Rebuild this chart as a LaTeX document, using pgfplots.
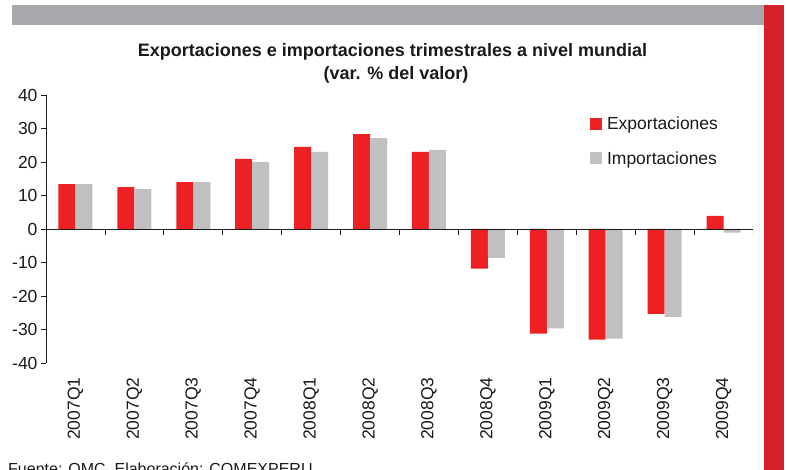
\documentclass[border=0pt]{standalone}
\usepackage{fontspec}
\setmainfont{Liberation Sans}
\usepackage{pgfplots}
\pgfplotsset{compat=1.18}
\definecolor{barred}{HTML}{ED2024}
\definecolor{bargray}{HTML}{C0C0C0}
\definecolor{topgray}{HTML}{A7A8AB}
\definecolor{sidered}{HTML}{D71F2A}
\definecolor{txt}{HTML}{1A1A1A}
\begin{document}
\begin{tikzpicture}[x=1pt,y=1pt]
\useasboundingbox (0,0) rectangle (787,470);
\fill[topgray] (12,465) rectangle (764,445);
\fill[sidered] (764,465) rectangle (784,0);
\node[anchor=base, text=txt, font=\fontsize{18}{18}\selectfont\bfseries] at (392.5,413) {Exportaciones e importaciones trimestrales a nivel mundial};
\node[anchor=base, text=txt, font=\fontsize{18}{18}\selectfont\bfseries] at (396,390) {(var. \% del valor)};
\node[anchor=base west, text=txt, font=\fontsize{16}{16}\selectfont, inner sep=0pt] at (8,-4.5) {Fuente: OMC. Elaboración: COMEXPERU};
\begin{axis}[
  at={(46pt,107pt)}, anchor=south west,
  scale only axis, width=707pt, height=268pt,
  ymin=-40, ymax=40, ytick={-40,-30,...,40},
  xmin=-0.5, xmax=11.5, xtick={0,...,11},
  xticklabels={2007Q1,2007Q2,2007Q3,2007Q4,2008Q1,2008Q2,2008Q3,2008Q4,2009Q1,2009Q2,2009Q3,2009Q4},
  ybar=0pt, bar width=17pt,
  axis y line*=left, axis x line*=bottom,
  x axis line style={draw=none},
  y axis line style={draw=txt, line width=0.8pt},
  xtick style={draw=none},
  ytick style={draw=txt, line width=0.8pt},
  tick align=outside, major tick length=5pt,
  /pgf/number format/assume math mode=true,
  yticklabel style={font=\fontsize{17.5}{17.5}\selectfont, text=txt},
  xticklabel style={rotate=90, anchor=east, font=\fontsize{17.5}{17.5}\selectfont, text=txt},
  xticklabel shift=6pt,
  legend style={draw=none, fill=none, at={(0.765,0.929)}, anchor=north west,
    font=\fontsize{17.5}{17.5}\selectfont, text=txt, row sep=18pt, column sep=4pt,
    nodes={inner sep=1pt, anchor=west}},
  legend cell align=left,
  legend image code/.code={\fill[#1,draw=none] (0pt,-6pt) rectangle (12pt,6pt);},
]
\addplot[fill=barred, draw=none] coordinates {
(0,13.4) (1,12.5) (2,14.0) (3,20.9) (4,24.5) (5,28.3) (6,23.0) (7,-11.8) (8,-31.2) (9,-33.0) (10,-25.3) (11,3.9)};
\addplot[fill=bargray, draw=none] coordinates {
(0,13.4) (1,11.9) (2,14.0) (3,20.0) (4,23.0) (5,27.1) (6,23.6) (7,-8.6) (8,-29.7) (9,-32.7) (10,-26.2) (11,-1.1)};
\legend{Exportaciones,Importaciones}
\draw[txt, line width=0.8pt] (axis cs:-0.5,0) -- (axis cs:11.5,0);
\pgfplotsinvokeforeach{-0.5,0.5,1.5,2.5,3.5,4.5,5.5,6.5,7.5,8.5,9.5,10.5,11.5}{
  \draw[txt, line width=0.8pt] (axis cs:#1,0) -- ([yshift=-6pt]axis cs:#1,0);
}
\end{axis}
\end{tikzpicture}
\end{document}
